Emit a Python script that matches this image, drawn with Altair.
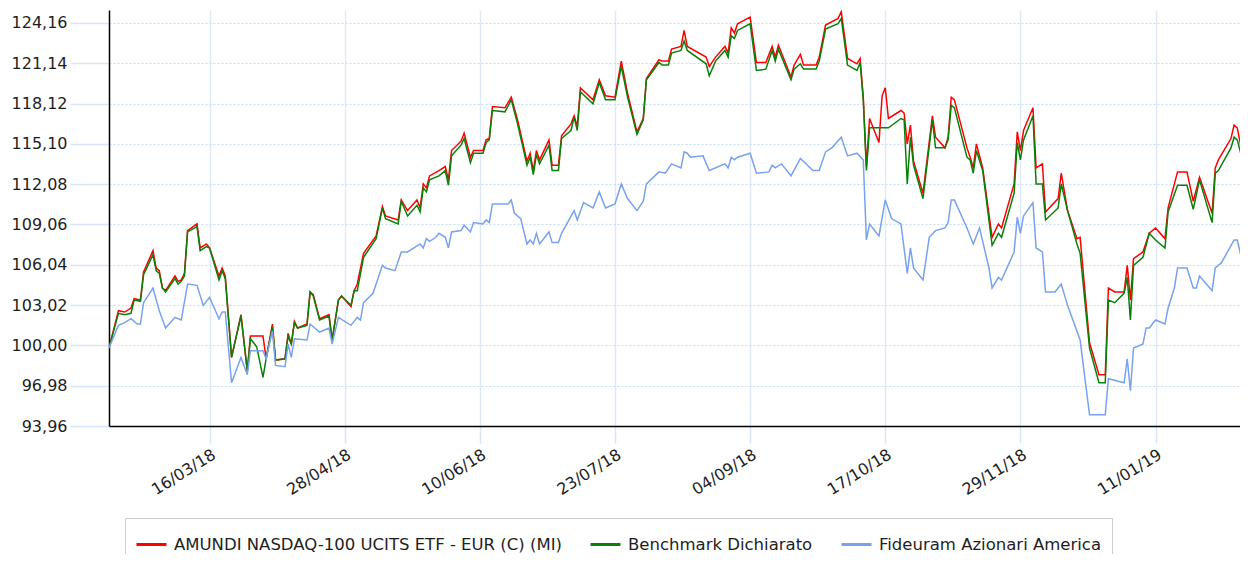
import altair as alt
import pandas as pd


def days(ym, ds):
    return [f"{ym}-{d:02d}" for d in ds]


# ---- AMUNDI NASDAQ-100 (red) and Benchmark (green): shared dates ----
fund_dates = (
    days("2018-02", [12, 15, 17, 19, 20, 22, 23, 26, 27, 28])
    + days("2018-03", [1, 2, 5, 6, 7, 8, 9, 12, 13, 15, 16, 19, 20, 21, 23, 26, 28, 29, 31])
    + days("2018-04", [2, 3, 5, 6, 9, 10, 11, 12, 13, 16, 17, 18, 20, 23, 24, 26, 27, 30])
    + days("2018-05", [1, 2, 4, 8, 10, 11, 15, 16, 18, 21, 22, 23, 24, 25, 28, 30, 31])
    + days("2018-06", [1, 4, 5, 7, 8, 11, 12, 13, 14, 18, 20, 22, 25, 26, 27, 28, 29])
    + days("2018-07", [2, 3, 5, 6, 9, 10, 11, 12, 16, 18, 20, 23, 25, 27, 30])
    + days("2018-08", [1, 2, 6, 7, 9, 10, 13, 14, 15, 21, 22, 24, 27, 28, 29, 30, 31])
    + days("2018-09", [4, 6, 9, 11, 12, 13, 17, 18, 20, 21, 25, 26, 28])
    + days("2018-10", [2, 3, 5, 8, 9, 10, 11, 12, 15, 16, 17, 18, 22, 23, 24, 25, 26, 29])
    + days("2018-11", [1, 2, 5, 6, 7, 8, 12, 13, 14, 15, 17, 20, 22, 23, 27, 28, 29, 30])
    + days("2018-12", [3, 4, 6, 7, 11, 12, 14, 17, 18, 21, 24, 26, 27, 29])
    + days("2019-01", [1, 2, 3, 4, 7, 9, 11, 14, 15, 18, 21, 23, 25, 29, 30, 31])
    + days("2019-02", [4, 5, 6, 7, 9])
)

amundi = [
    99.8, 102.6, 102.5, 102.8, 103.5, 103.4, 105.5, 107.1, 105.8, 105.6,
    104.3, 104.1, 105.2, 104.8, 104.9, 105.4, 108.6, 109.1, 107.3, 107.6, 107.3, 105.2, 105.8, 105.2, 99.1, 102.3, 98.1, 100.7, 100.7,
    100.7, 99.0, 101.6, 98.9, 99.0, 100.9, 100.1, 101.8, 101.3, 101.6, 104.0, 103.8, 102.0, 102.3, 100.4, 103.4, 103.7, 102.9,
    104.1, 104.6, 106.9, 108.2, 110.4, 109.7, 109.4, 110.9, 110.1, 110.9, 110.3, 112.1, 111.8, 112.7, 113.1, 113.4, 112.4,
    114.6, 115.3, 115.9, 114.1, 114.6, 114.6, 115.4, 115.5, 117.9, 117.8, 118.6, 116.9, 113.8, 114.4, 113.1, 114.6, 113.9,
    115.4, 113.5, 113.5, 115.7, 116.6, 117.2, 116.4, 119.3, 118.4, 119.9, 118.7, 118.6, 121.3, 118.9, 116.0,
    117.0, 120.0, 121.4, 121.3, 121.3, 122.2, 122.4, 123.6, 122.4, 121.6, 120.9, 121.6, 122.4, 121.9, 123.8, 123.4, 124.1,
    124.6, 121.2, 121.2, 122.4, 121.6, 122.5, 120.1, 121.0, 121.8, 121.0, 121.0, 121.6, 124.0,
    124.5, 125.0, 121.5, 121.1, 121.5, 118.6, 113.4, 117.0, 115.2, 118.7, 119.3, 117.0, 117.6, 117.4, 115.1, 116.5, 113.8, 111.4,
    117.2, 115.6, 114.8, 115.6, 118.6, 118.4, 114.8, 114.1, 113.3, 115.1, 113.3, 108.1, 109.1, 108.8, 112.1, 116.0, 114.6, 116.1,
    117.8, 113.3, 113.6, 110.0, 111.0, 112.9, 110.1, 108.0, 108.1, 100.2, 97.8, 97.8, 104.3, 104.0,
    104.0, 106.0, 103.4, 106.5, 107.0, 108.4, 108.8, 108.0, 110.3, 113.0, 113.0, 110.8, 112.6, 109.9, 113.3, 113.9,
    115.5, 116.5, 116.3, 115.1, 115.7,
]

benchmark = [
    99.8, 102.4, 102.3, 102.4, 103.4, 103.3, 105.3, 106.8, 105.6, 105.4,
    104.3, 104.0, 105.0, 104.6, 104.8, 105.2, 108.5, 108.9, 107.1, 107.4, 107.3, 104.9, 105.6, 105.0, 99.1, 102.2, 98.1, 100.5, 99.9,
    97.6, 99.0, 101.4, 98.9, 99.0, 100.7, 100.1, 101.7, 101.3, 101.5, 104.0, 103.7, 101.9, 102.2, 100.4, 103.4, 103.7, 103.0,
    104.1, 104.1, 106.6, 108.0, 110.3, 109.5, 109.1, 110.8, 109.7, 110.5, 110.0, 111.8, 111.5, 112.4, 112.7, 113.1, 112.0,
    114.2, 115.0, 115.5, 113.7, 114.4, 114.4, 115.2, 115.4, 117.6, 117.5, 118.4, 116.6, 113.5, 114.1, 112.8, 114.3, 113.6,
    115.0, 113.1, 113.1, 115.5, 116.1, 117.1, 116.1, 119.0, 118.1, 119.7, 118.4, 118.4, 120.9, 118.6, 115.8,
    116.9, 119.9, 121.2, 121.0, 121.0, 121.9, 122.1, 122.8, 122.1, 121.1, 120.2, 121.3, 122.1, 121.6, 123.2, 123.0, 123.6,
    124.1, 120.6, 120.7, 122.1, 121.3, 122.2, 119.9, 120.7, 121.1, 120.7, 120.7, 121.3, 123.7,
    124.1, 124.5, 121.0, 120.6, 121.2, 118.4, 113.1, 116.3, 116.3, 116.3, 116.3, 116.3, 117.0, 116.9, 112.1, 115.6, 113.5, 111.0,
    116.9, 114.8, 114.8, 115.4, 118.0, 117.8, 114.1, 113.9, 112.9, 114.6, 113.1, 107.5, 108.4, 108.1, 111.4, 115.2, 113.9, 115.4,
    117.2, 112.1, 112.1, 109.4, 110.3, 112.1, 110.1, 107.6, 106.9, 99.8, 97.2, 97.2, 103.4, 103.2,
    103.9, 105.1, 101.9, 106.0, 106.6, 108.4, 107.9, 107.3, 110.0, 112.0, 112.0, 110.2, 112.4, 109.2, 112.9, 113.1,
    114.8, 115.6, 115.4, 114.5, 114.8,
]

# ---- Fideuram Azionari America (blue) ----
fideuram_dates = (
    days("2018-02", [12, 15, 17, 19, 21, 22, 23, 26, 28])
    + days("2018-03", [2, 5, 7, 9, 12, 14, 16, 19, 20, 21, 23, 26, 28, 29])
    + days("2018-04", [2, 3, 5, 6, 9, 10, 11, 12, 16, 17, 20, 23, 24, 26, 30])
    + days("2018-05", [2, 3, 4, 7, 10, 11, 14, 16, 18, 22, 23, 24, 25, 27, 28, 30, 31])
    + days("2018-06", [1, 4, 5, 7, 8, 11, 12, 13, 14, 19, 20, 21, 23, 25, 26, 27, 28, 29])
    + days("2018-07", [2, 3, 5, 6, 10, 11, 13, 16, 18, 20, 23, 25, 27, 30])
    + days("2018-08", [1, 2, 6, 8, 10, 13, 14, 15, 16, 20, 22, 27, 28, 29, 30, 31])
    + days("2018-09", [4, 6, 10, 11, 12, 14, 17, 20, 24, 26, 28, 30])
    + days("2018-10", [3, 5, 8, 10, 11, 12, 15, 17, 19, 22, 24, 25, 26, 29, 31])
    + days("2018-11", [2, 5, 6, 7, 8, 12, 14, 16, 19, 20, 22, 23, 27, 28, 29, 30])
    + days("2018-12", [3, 4, 6, 7, 10, 12, 14, 18, 21, 26, 27])
    + days("2019-01", [1, 2, 3, 4, 7, 8, 9, 11, 14, 15, 17, 18, 21, 23, 24, 25, 29, 30])
    + days("2019-02", [1, 5, 6, 7, 9])
)

fideuram = [
    99.8, 101.5, 101.7, 102.0, 101.6, 101.6, 103.2, 104.3, 102.6,
    101.3, 102.1, 101.9, 104.6, 104.5, 103.0, 103.6, 102.0, 102.5, 102.5, 97.2, 99.1, 97.8, 99.6,
    99.6, 99.0, 101.1, 98.5, 98.4, 100.1, 99.1, 100.5, 100.4, 101.6, 101.0, 101.3, 100.1, 102.1, 101.5,
    102.1, 101.9, 103.2, 103.9, 106.0, 105.8, 105.6, 107.0, 107.0, 107.6, 107.3, 108.0, 107.8, 108.1, 108.4, 108.1, 107.3,
    108.5, 108.6, 109.0, 108.5, 109.2, 109.1, 109.4, 109.2, 110.6, 110.6, 110.9, 109.9, 109.5, 107.6, 107.9, 107.6, 108.4, 107.6,
    108.5, 107.7, 107.7, 108.4, 110.1, 109.4, 110.7, 110.3, 111.5, 110.3, 110.6, 112.1, 111.0, 110.1,
    110.8, 112.1, 113.0, 112.9, 113.6, 113.3, 114.5, 114.4, 114.1, 114.2, 113.1, 113.6, 113.3, 114.1, 113.9, 114.1,
    114.4, 112.9, 113.0, 113.5, 113.3, 113.6, 112.7, 114.0, 113.1, 113.1, 114.5, 114.8,
    115.6, 114.2, 114.4, 113.9, 107.9, 109.1, 108.2, 110.9, 109.5, 109.1, 105.4, 107.3, 105.8, 104.9, 108.1,
    108.6, 108.8, 109.2, 110.9, 110.9, 108.8, 107.6, 108.8, 105.8, 104.3, 105.1, 104.9, 107.0, 109.6, 108.4, 109.7,
    110.7, 107.3, 107.0, 104.0, 104.0, 104.6, 103.0, 100.4, 94.8, 94.8, 97.5,
    97.2, 99.0, 96.6, 99.8, 100.1, 101.3, 101.3, 101.9, 101.6, 102.8, 104.3, 105.8, 105.8, 104.3, 104.3, 105.2, 104.1, 105.8,
    106.2, 107.9, 107.9, 106.9, 107.5,
]

series_names = [
    "AMUNDI NASDAQ-100 UCITS ETF - EUR (C) (MI)",
    "Benchmark Dichiarato",
    "Fideuram Azionari America",
]
series_colors = ["#ff0000", "#0a800a", "#78a2f0"]

y_ticks = [93.96, 96.98, 100.00, 103.02, 106.04, 109.06, 112.08, 115.10, 118.12, 121.14, 124.16]
x_tick_dates = ["2018-03-16", "2018-04-28", "2018-06-10", "2018-07-23",
                "2018-09-04", "2018-10-17", "2018-11-29", "2019-01-11"]

assert len(fund_dates) == len(amundi) == len(benchmark)
assert len(fideuram_dates) == len(fideuram)

rows = []
for d, v in zip(fund_dates, amundi):
    rows.append({"date": d, "value": v, "series": series_names[0]})
for d, v in zip(fund_dates, benchmark):
    rows.append({"date": d, "value": v, "series": series_names[1]})
for d, v in zip(fideuram_dates, fideuram):
    rows.append({"date": d, "value": v, "series": series_names[2]})
df = pd.DataFrame(rows)


def dt(s, hours=0):
    y, m, d = (int(p) for p in s.split("-"))
    return alt.DateTime(year=y, month=m, date=d, hours=hours, utc=True)


FONT = "DejaVu Sans"
TEXT = "#1e1e1e"

chart = (
    alt.Chart(df)
    .mark_line(strokeWidth=1.5, clip=True)
    .encode(
        x=alt.X(
            "date:T",
            scale=alt.Scale(type="utc", domain=[dt("2018-02-12"), dt("2019-02-06", 21)]),
            axis=alt.Axis(
                values=[dt(s) for s in x_tick_dates],
                format="%d/%m/%y",
                labelAngle=-32,
                labelAlign="right",
                labelBaseline="top",
                labelPadding=3,
                labelFont=FONT,
                labelFontSize=16,
                labelColor=TEXT,
                tickSize=17,
                tickColor="#d7e5f8",
                tickWidth=1.5,
                grid=True,
                gridColor="#dde9f9",
                gridWidth=1.5,
                domainColor="#000000",
                domainWidth=1.5,
                title=None,
            ),
        ),
        y=alt.Y(
            "value:Q",
            scale=alt.Scale(domain=[93.96, 125.13], nice=False, zero=False),
            axis=alt.Axis(
                values=y_ticks,
                labelExpr="replace(format(datum.value, '.2f'), '.', ',')",
                labelFont=FONT,
                labelFontSize=16,
                labelColor=TEXT,
                labelPadding=3,
                tickSize=39,
                tickColor="#d7e5f8",
                tickWidth=1.5,
                grid=True,
                gridColor="#c6dbf4",
                gridDash=[2, 2],
                gridWidth=1,
                domainColor="#000000",
                domainWidth=1.5,
                title=None,
            ),
        ),
        color=alt.Color(
            "series:N",
            sort=series_names,
            scale=alt.Scale(domain=series_names, range=series_colors),
            legend=alt.Legend(
                title=None,
                orient="none",
                legendX=16,
                legendY=508,
                direction="horizontal",
                symbolType="stroke",
                symbolSize=900,
                symbolStrokeWidth=3,
                labelFont=FONT,
                labelFontSize=16.5,
                labelColor=TEXT,
                labelOffset=6,
                columnPadding=22,
                padding=10,
                strokeColor="#cfcfcf",
                fillColor="#ffffff",
                labelLimit=0,
            ),
        ),
    )
    .properties(
        width=1131,
        height=416,
        autosize=alt.AutoSizeParams(type="none"),
        padding={"left": 101, "top": 2, "right": 0, "bottom": 128},
    )
    .configure_view(stroke=None)
)

chart.save("out.html", embed_options={"renderer": "svg", "actions": False})
